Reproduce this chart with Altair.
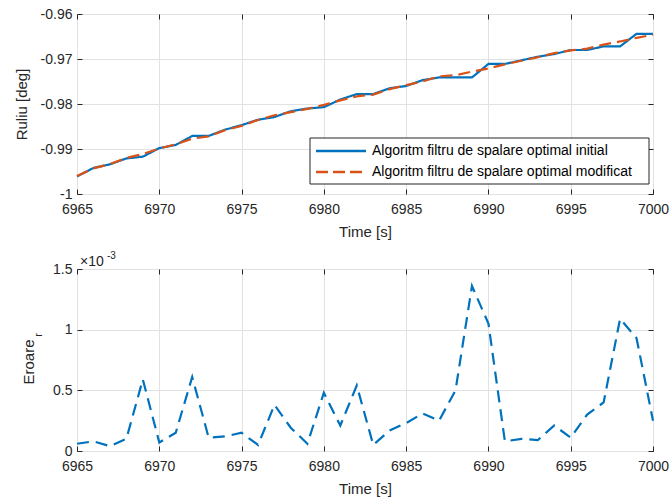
import altair as alt
import pandas as pd

time = list(range(6965, 7001))
initial = [-0.9961, -0.9942, -0.9934, -0.9921, -0.9917, -0.9898, -0.9891, -0.9871, -0.9871, -0.9857,
           -0.9847, -0.9835, -0.9829, -0.9816, -0.9810, -0.9807, -0.9790, -0.9778, -0.9778, -0.9765,
           -0.9760, -0.9747, -0.9741, -0.9741, -0.9741, -0.9711, -0.9711, -0.9703, -0.9695, -0.9689,
           -0.9680, -0.9680, -0.9672, -0.9672, -0.9644, -0.9644]
modified = [-0.9960, -0.9943, -0.99336, -0.9920, -0.9911, -0.9899, -0.98895, -0.9877, -0.9872, -0.9858,
            -0.98486, -0.98355, -0.9825, -0.9818, -0.9811, -0.9802, -0.9792, -0.9783, -0.9779, -0.9767,
            -0.9758, -0.9750, -0.97385, -0.9736, -0.9728, -0.9721, -0.9712, -0.9704, -0.9696, -0.9687,
            -0.9681, -0.9677, -0.9668, -0.9661, -0.9653, -0.9646]
err_e3 = [0.06, 0.08, 0.04, 0.10, 0.59, 0.07, 0.15, 0.61, 0.11, 0.12,
          0.15, 0.05, 0.38, 0.19, 0.06, 0.48, 0.21, 0.54, 0.05, 0.17,
          0.23, 0.31, 0.25, 0.50, 1.36, 1.05, 0.08, 0.10, 0.09, 0.21,
          0.11, 0.30, 0.40, 1.09, 0.93, 0.25]
series_names = ["Algoritm filtru de spalare optimal initial",
                "Algoritm filtru de spalare optimal modificat"]
x_ticks = [6965, 6970, 6975, 6980, 6985, 6990, 6995, 7000]
top_ticks = [-1.0, -0.99, -0.98, -0.97, -0.96]
err_ticks = [0, 0.5, 1, 1.5]

BLUE = "#0072BD"
ORANGE = "#D95319"
TXT = "#262626"
FONT = "Liberation Sans"
W = 576

top_df = pd.DataFrame({
    "t": time * 2,
    "v": initial + modified,
    "s": [series_names[0]] * len(time) + [series_names[1]] * len(time),
})
err_df = pd.DataFrame({"t": time, "e": err_e3})
one = pd.DataFrame({"a": [0]})

x_scale = alt.Scale(domain=[6965, 7000], nice=False, zero=False)
top_y_scale = alt.Scale(domain=[-1.0, -0.96], nice=False, zero=False)
err_y_scale = alt.Scale(domain=[0, 1.5], nice=False, zero=False)


def main_x_axis():
    return alt.Axis(values=x_ticks, format="d", title="Time [s]", labelFlush=False,
                    offset=-5, tickSize=5, tickColor=TXT, labelPadding=8, titlePadding=8.5,
                    domain=False)


def tick_axis(orient, values):
    return alt.Axis(orient=orient, values=values, labels=False, grid=False, domain=False,
                    title=None, offset=-5, tickSize=5, tickColor=TXT)


lines = alt.Chart(top_df).mark_line(strokeWidth=2.2).encode(
    x=alt.X("t:Q", scale=x_scale, axis=main_x_axis()),
    y=alt.Y("v:Q", scale=top_y_scale,
            axis=alt.Axis(values=top_ticks, title="Ruliu [deg]",
                          labelExpr="datum.value <= -0.9999 ? '-1' : '-' + format(-datum.value, '.2f')",
                          offset=-5, tickSize=5, tickColor=TXT, labelPadding=5, titlePadding=11,
                          domain=False)),
    color=alt.Color("s:N", scale=alt.Scale(domain=series_names, range=[BLUE, ORANGE]), legend=None),
    strokeDash=alt.StrokeDash("s:N", scale=alt.Scale(domain=series_names, range=[[1, 0], [12, 6]]),
                              legend=None),
)
top_ticks_layer = alt.Chart(top_df).mark_line(opacity=0).encode(
    x=alt.X("t:Q", scale=x_scale, axis=tick_axis("top", x_ticks)),
    y=alt.Y("v:Q", scale=top_y_scale, axis=tick_axis("right", top_ticks)),
)

# legend (drawn as annotation inside the plot area)
LX0, LY0, LX1, LY1 = 233, 124, 572, 170
leg_box = alt.Chart(one).mark_rect(fill="white", stroke=TXT, strokeWidth=1).encode(
    x=alt.value(LX0), x2=alt.value(LX1), y=alt.value(LY0), y2=alt.value(LY1))
leg_l1 = alt.Chart(one).mark_rule(color=BLUE, strokeWidth=2.5).encode(
    x=alt.value(LX0 + 6), x2=alt.value(LX0 + 56), y=alt.value(LY0 + 13))
leg_l2 = alt.Chart(one).mark_rule(color=ORANGE, strokeWidth=2.5, strokeDash=[12, 5]).encode(
    x=alt.value(LX0 + 6), x2=alt.value(LX0 + 56), y=alt.value(LY0 + 34))
leg_t1 = alt.Chart(one).mark_text(text=series_names[0], align="left", baseline="middle",
                                  font=FONT, fontSize=14, color="#000000").encode(
    x=alt.value(LX0 + 62), y=alt.value(LY0 + 13))
leg_t2 = alt.Chart(one).mark_text(text=series_names[1], align="left", baseline="middle",
                                  font=FONT, fontSize=14, color="#000000").encode(
    x=alt.value(LX0 + 62), y=alt.value(LY0 + 34))

top = alt.layer(lines, top_ticks_layer, leg_box, leg_l1, leg_l2, leg_t1, leg_t2).resolve_axis(
    x="independent", y="independent").properties(width=W, height=180)

err_line = alt.Chart(err_df).mark_line(strokeWidth=2.2, color=BLUE, strokeDash=[12, 7]).encode(
    x=alt.X("t:Q", scale=x_scale, axis=main_x_axis()),
    y=alt.Y("e:Q", scale=err_y_scale,
            axis=alt.Axis(values=err_ticks, format="~g", title=None,
                          offset=-5, tickSize=5, tickColor=TXT, labelPadding=5, domain=False)),
)
err_ticks_layer = alt.Chart(err_df).mark_line(opacity=0).encode(
    x=alt.X("t:Q", scale=x_scale, axis=tick_axis("top", x_ticks)),
    y=alt.Y("e:Q", scale=err_y_scale, axis=tick_axis("right", err_ticks)),
)
ylab = alt.Chart(one).mark_text(text="Eroare", angle=270, align="center", baseline="middle",
                                font=FONT, fontSize=15, color=TXT).encode(
    x=alt.value(-48), y=alt.value(93))
ysub = alt.Chart(one).mark_text(text="r", angle=270, align="center", baseline="middle",
                                font=FONT, fontSize=11, color=TXT).encode(
    x=alt.value(-38), y=alt.value(66))
mult = alt.Chart(one).mark_text(text="×10", align="left", baseline="alphabetic",
                                font=FONT, fontSize=14, color=TXT).encode(
    x=alt.value(3), y=alt.value(-3))
mexp = alt.Chart(one).mark_text(text="-3", align="left", baseline="alphabetic",
                                font=FONT, fontSize=10, color=TXT).encode(
    x=alt.value(30), y=alt.value(-10))

bottom = alt.layer(err_line, err_ticks_layer, ylab, ysub, mult, mexp).resolve_axis(
    x="independent", y="independent").properties(width=W, height=182)

chart = alt.vconcat(top, bottom, spacing=10).properties(
    padding={"left": 13, "top": 6, "right": 0, "bottom": 5},
    background="white",
).configure_view(stroke=TXT, strokeWidth=1).configure_axis(
    labelFont=FONT, titleFont=FONT, labelFontSize=14, titleFontSize=15,
    labelColor=TXT, titleColor=TXT, titleFontWeight="normal",
    gridColor="#e2e2e2", gridWidth=1
)

chart.save("out.html", embed_options={"renderer": "svg", "actions": False})
